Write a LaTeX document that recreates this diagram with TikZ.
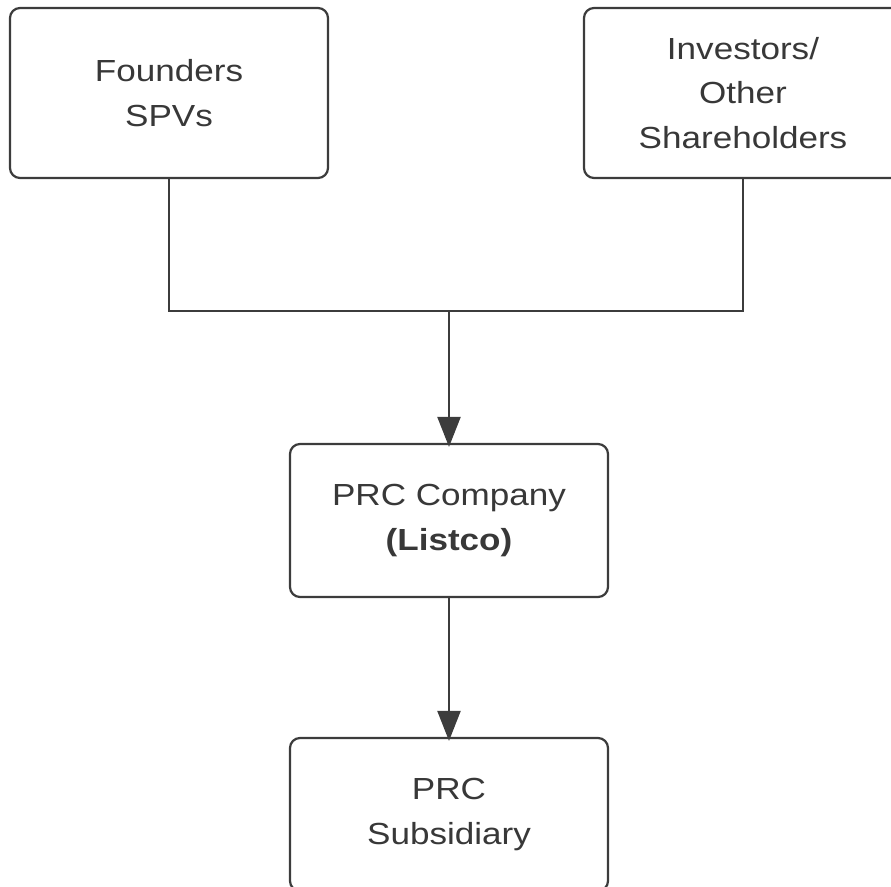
\documentclass[tikz,border=0pt]{standalone}
\usepackage{fontspec}
\setmainfont{Liberation Sans}[FakeStretch=1.15]
\usetikzlibrary{arrows.meta}
\definecolor{linec}{HTML}{3C3C3C}
\definecolor{txt}{HTML}{383838}
\begin{document}
\begin{tikzpicture}[x=1pt,y=1pt,
  box/.style={draw=linec, line width=2.2pt, rounded corners=10pt, fill=white,
    minimum width=318pt, inner sep=0pt, align=center, text=txt,
    font=\fontsize{30.5}{44.5}\selectfont},
  link/.style={draw=linec, line width=2.2pt},
  arr/.style={link, -{Triangle[length=30pt,width=23pt]}, shorten >=-4pt}]
\useasboundingbox (0,0) rectangle (891,-886);
\clip (0,0) rectangle (891,-886);

% owners
\node[box, minimum height=170pt] (founders) at (169,-93) {Founders\\SPVs};
\node[box, minimum height=170pt] (investors) at (743,-93) {Investors/\\Other\\Shareholders};

% listed company and its subsidiary
\node[box, minimum height=153pt] (listco) at (449,-520.5) {PRC Company\\\textbf{(Listco)}};
\node[box, minimum height=153pt] (sub) at (449,-814.5) {PRC\\Subsidiary};

% shareholding lines
\coordinate (join) at (449,-311);
\draw[link] (founders.south) |- (join) -| (investors.south);
\draw[arr] (join) -- (listco.north);
\draw[arr] (listco.south) -- (sub.north);
\end{tikzpicture}
\end{document}
